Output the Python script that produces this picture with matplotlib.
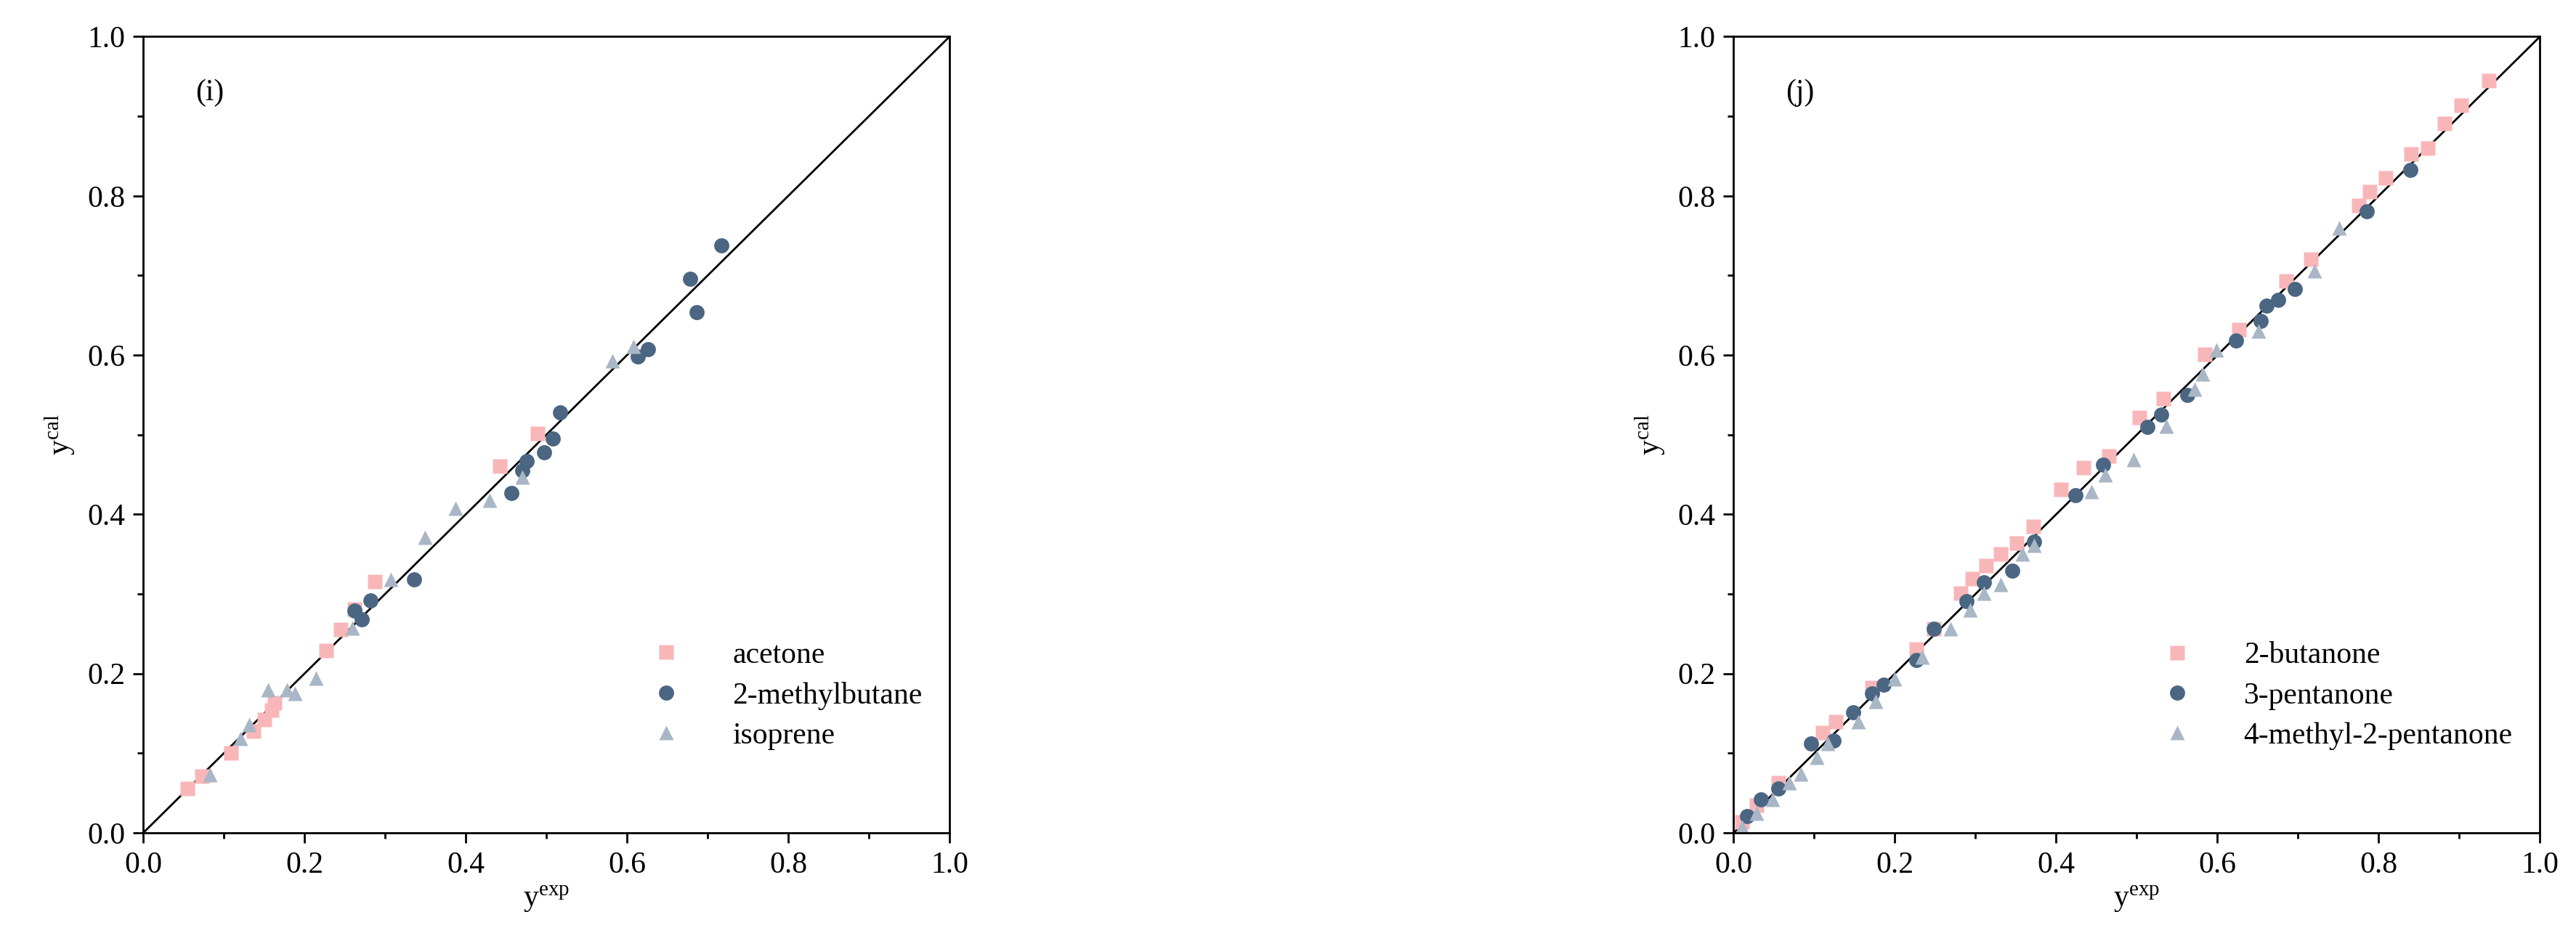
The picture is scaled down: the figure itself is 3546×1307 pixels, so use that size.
import matplotlib
matplotlib.use("Agg")
import matplotlib.pyplot as plt
from matplotlib.ticker import MultipleLocator

plt.rcParams["font.family"] = "Liberation Serif"
plt.rcParams["mathtext.fontset"] = "custom"
plt.rcParams["mathtext.rm"] = "Liberation Serif"
plt.rcParams["mathtext.it"] = "Liberation Serif:italic"

PINK = "#F9B6B8"
DARK = "#4A6682"
GREY = "#A8B6C6"

# panel (i)
acetone_x = [0.055, 0.073, 0.109, 0.137, 0.150, 0.159, 0.163, 0.227, 0.245, 0.262, 0.287, 0.442, 0.489]
acetone_y = [0.056, 0.071, 0.100, 0.128, 0.142, 0.154, 0.163, 0.229, 0.255, 0.281, 0.316, 0.461, 0.502]
mbutane_x = [0.262, 0.271, 0.282, 0.336, 0.457, 0.470, 0.476, 0.497, 0.508, 0.517, 0.613, 0.626, 0.678, 0.686, 0.717]
mbutane_y = [0.279, 0.268, 0.292, 0.318, 0.427, 0.455, 0.467, 0.478, 0.495, 0.528, 0.598, 0.607, 0.696, 0.654, 0.738]
isoprene_x = [0.083, 0.121, 0.131, 0.155, 0.178, 0.188, 0.214, 0.259, 0.307, 0.349, 0.387, 0.430, 0.470, 0.582, 0.608]
isoprene_y = [0.073, 0.119, 0.136, 0.180, 0.180, 0.175, 0.194, 0.257, 0.318, 0.371, 0.408, 0.418, 0.447, 0.593, 0.611]

# panel (j)
butanone_x = [0.937, 0.902, 0.882, 0.861, 0.840, 0.809, 0.789, 0.775, 0.716, 0.685, 0.627, 0.584, 0.533, 0.503,
              0.465, 0.434, 0.406, 0.372, 0.351, 0.331, 0.313, 0.296, 0.282, 0.248, 0.227, 0.172, 0.127, 0.110,
              0.055, 0.028, 0.010]
butanone_y = [0.945, 0.914, 0.891, 0.860, 0.853, 0.823, 0.805, 0.788, 0.720, 0.693, 0.632, 0.601, 0.545, 0.522,
              0.473, 0.459, 0.431, 0.385, 0.364, 0.350, 0.336, 0.319, 0.301, 0.256, 0.231, 0.182, 0.140, 0.126,
              0.063, 0.035, 0.014]
pentanone_x = [0.839, 0.785, 0.696, 0.675, 0.661, 0.654, 0.623, 0.563, 0.513, 0.530, 0.458, 0.424, 0.373, 0.346,
               0.310, 0.289, 0.248, 0.227, 0.186, 0.172, 0.148, 0.096, 0.124, 0.055, 0.034, 0.017]
pentanone_y = [0.833, 0.781, 0.683, 0.669, 0.662, 0.643, 0.618, 0.550, 0.510, 0.525, 0.462, 0.424, 0.366, 0.329,
               0.315, 0.291, 0.256, 0.217, 0.186, 0.175, 0.151, 0.112, 0.116, 0.056, 0.042, 0.021]
mpentanone_x = [0.751, 0.720, 0.651, 0.599, 0.582, 0.572, 0.537, 0.496, 0.444, 0.461, 0.373, 0.358, 0.331, 0.310,
                0.293, 0.269, 0.234, 0.200, 0.176, 0.155, 0.117, 0.103, 0.083, 0.069, 0.048, 0.028, 0.010]
mpentanone_y = [0.760, 0.706, 0.630, 0.606, 0.576, 0.557, 0.511, 0.469, 0.429, 0.450, 0.361, 0.350, 0.312, 0.301,
                0.280, 0.256, 0.221, 0.193, 0.165, 0.140, 0.112, 0.095, 0.074, 0.063, 0.042, 0.025, 0.007]

FS = 30


def draw_panel(ax, series, tag):
    ax.plot([0, 1], [0, 1], color="black", lw=2, zorder=1)
    for xs, ys, marker, color, label in series:
        ax.plot(xs, ys, ls="none", marker=marker, ms=15, color=color, mec="none", label=label, zorder=2)
    ax.set_xlim(0, 1)
    ax.set_ylim(0, 1)
    ax.xaxis.set_major_locator(MultipleLocator(0.2))
    ax.yaxis.set_major_locator(MultipleLocator(0.2))
    ax.xaxis.set_minor_locator(MultipleLocator(0.1))
    ax.yaxis.set_minor_locator(MultipleLocator(0.1))
    ax.tick_params(which="major", length=10, width=2, labelsize=FS, pad=8)
    ax.tick_params(which="minor", length=6, width=2)
    for sp in ax.spines.values():
        sp.set_linewidth(2)
    ax.set_xlabel(r"$\mathrm{y}^{\mathrm{exp}}$", fontsize=FS, labelpad=6)
    ax.set_ylabel(r"$\mathrm{y}^{\mathrm{cal}}$", fontsize=FS, labelpad=10)
    ax.text(0.065, 0.92, tag, transform=ax.transAxes, fontsize=FS)
    ax.legend(loc="lower right", bbox_to_anchor=(1.0, 0.07), frameon=False, fontsize=FS,
              handletextpad=1.2, labelspacing=0.4, markerscale=1.0)


fig = plt.figure(figsize=(35.46, 13.07), dpi=100)
ax1 = fig.add_axes([0.0556, 0.1224, 0.313, 0.839])
ax2 = fig.add_axes([0.673, 0.1224, 0.313, 0.839])

draw_panel(ax1, [
    (acetone_x, acetone_y, "s", PINK, "acetone"),
    (mbutane_x, mbutane_y, "o", DARK, "2-methylbutane"),
    (isoprene_x, isoprene_y, "^", GREY, "isoprene"),
], "(i)")
draw_panel(ax2, [
    (butanone_x, butanone_y, "s", PINK, "2-butanone"),
    (pentanone_x, pentanone_y, "o", DARK, "3-pentanone"),
    (mpentanone_x, mpentanone_y, "^", GREY, "4-methyl-2-pentanone"),
], "(j)")

fig.savefig("out.png", dpi=100)
